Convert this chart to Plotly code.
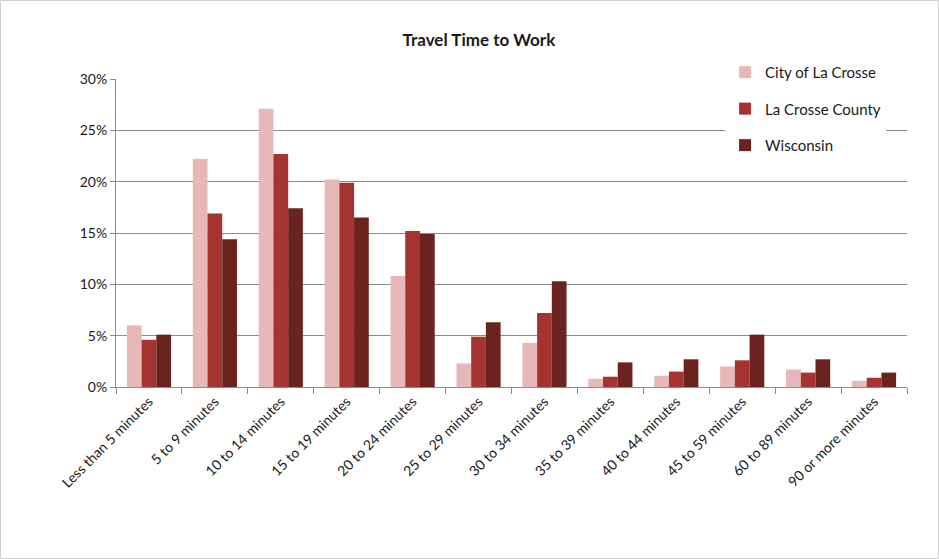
import plotly.graph_objects as go

categories = ["Less than 5 minutes", "5 to 9 minutes", "10 to 14 minutes", "15 to 19 minutes",
              "20 to 24 minutes", "25 to 29 minutes", "30 to 34 minutes", "35 to 39 minutes",
              "40 to 44 minutes", "45 to 59 minutes", "60 to 89 minutes", "90 or more minutes"]
city = [6.0, 22.2, 27.1, 20.2, 10.8, 2.3, 4.3, 0.8, 1.1, 2.0, 1.7, 0.6]
county = [4.6, 16.9, 22.7, 19.9, 15.2, 4.9, 7.2, 1.0, 1.5, 2.6, 1.4, 0.9]
wisconsin = [5.1, 14.4, 17.4, 16.5, 14.9, 6.3, 10.3, 2.4, 2.7, 5.1, 2.7, 1.4]

series = [("City of La Crosse", city, "#E6B8B7"),
          ("La Crosse County", county, "#A5332F"),
          ("Wisconsin", wisconsin, "#6B2320")]

font_family = "Lato, 'Open Sans', sans-serif"

fig = go.Figure()
for i, (name, vals, color) in enumerate(series):
    fig.add_trace(go.Bar(x=categories, y=vals, name=name, marker_color=color,
                         marker_line_width=0, legendgroup=f"g{i}"))

fig.update_layout(
    width=939, height=559,
    paper_bgcolor="white", plot_bgcolor="white",
    margin=dict(l=116, r=32, t=79, b=172),
    barmode="group", bargap=0.33, bargroupgap=0,
    font=dict(family=font_family, color="#1a1a1a", size=13),
    title=dict(text="<b>Travel Time to Work</b>", x=0.51, xref="container", xanchor="center",
               y=1 - 40 / 559, yref="container", yanchor="middle",
               font=dict(size=17, family=font_family, color="#1a1a1a")),
    legend=dict(x=0.77, xanchor="left", y=1.075, yanchor="top", bgcolor="white",
                font=dict(size=15, family=font_family), tracegroupgap=14,
                itemwidth=30, traceorder="grouped"),
    showlegend=True,
    shapes=[dict(type="rect", xref="paper", yref="paper",
                 x0=-115.5 / 791, x1=1 + 31.5 / 791, y0=-171.5 / 308, y1=1 + 78.5 / 308,
                 line=dict(color="#d0d0d0", width=1), fillcolor="rgba(0,0,0,0)", layer="below")],
)

fig.update_xaxes(tickangle=-45, tickson="boundaries", ticks="outside", ticklen=6,
                 tickcolor="#8c8c8c", showline=True, linecolor="#8c8c8c", linewidth=1,
                 tickfont=dict(size=14, family=font_family, color="#1a1a1a"), showgrid=False)
fig.update_yaxes(range=[0, 30], dtick=5, ticksuffix="%", ticks="outside", ticklen=5,
                 tickcolor="#8c8c8c", showline=True, linecolor="#8c8c8c", linewidth=1,
                 showgrid=True, gridcolor="#8c8c8c", gridwidth=1, zeroline=False,
                 tickfont=dict(size=14, family=font_family, color="#1a1a1a"))

fig.write_html("out.html")
